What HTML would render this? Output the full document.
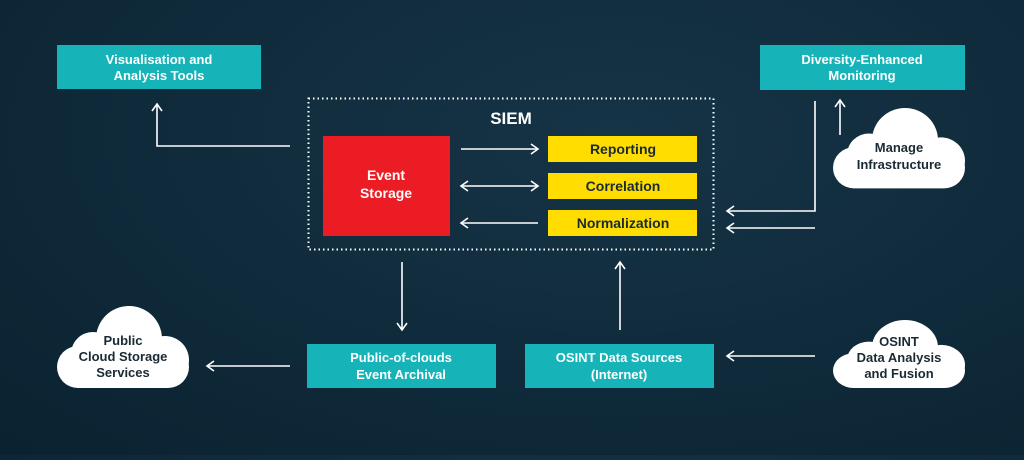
<!DOCTYPE html>
<html><head><meta charset="utf-8"><style>
html,body{margin:0;padding:0}
body{width:1024px;height:455px;overflow:hidden;background:radial-gradient(ellipse at 60% 30%,#163447 0%,#0f2a3a 55%,#0b2230 100%);font-family:"Liberation Sans",sans-serif}
</style></head><body>
<svg width="1024" height="455" viewBox="0 0 1024 455" xmlns="http://www.w3.org/2000/svg" font-family="Liberation Sans, sans-serif" font-weight="bold">
<defs>
<marker id="a" markerWidth="12" markerHeight="12" refX="9" refY="6" orient="auto-start-reverse" markerUnits="userSpaceOnUse">
<path d="M2,1 L9,6 L2,11" fill="none" stroke="#fff" stroke-width="1.6"/></marker>
<g id="cloud">
<rect x="0" y="40" width="132" height="42" rx="21" fill="#fff"/>
<circle cx="72" cy="33" r="33" fill="#fff"/>
<circle cx="36" cy="48" r="22" fill="#fff"/>
<circle cx="108" cy="54" r="24" fill="#fff"/>
</g>
</defs>
<g stroke="#fff" stroke-width="1.6" fill="none">
<rect x="308.5" y="98.5" width="405" height="151" stroke-dasharray="1.5 3" stroke-width="2"/>
</g>
<rect x="57" y="45" width="204" height="44" fill="#16b3b8"/>
<rect x="760" y="45" width="205" height="45" fill="#16b3b8"/>
<rect x="307" y="344" width="189" height="44" fill="#16b3b8"/>
<rect x="525" y="344" width="189" height="44" fill="#16b3b8"/>
<rect x="323" y="136" width="127" height="100" fill="#ec1c24"/>
<rect x="548" y="136" width="149" height="26" fill="#ffdd00"/>
<rect x="548" y="173" width="149" height="26" fill="#ffdd00"/>
<rect x="548" y="210" width="149" height="26" fill="#ffdd00"/>
<use href="#cloud" transform="translate(57,306)"/>
<use href="#cloud" transform="translate(833,108) scale(1,0.98)"/>
<use href="#cloud" transform="translate(833,320) scale(1,0.83)"/>
<g stroke="#fff" stroke-width="1.6" fill="none">
<path d="M290,146 H157 V104" marker-end="url(#a)"/>
<path d="M461,149 H538" marker-end="url(#a)"/>
<path d="M461,186 H538" marker-end="url(#a)" marker-start="url(#a)"/>
<path d="M538,223 H461" marker-end="url(#a)"/>
<path d="M815,101 V211 H727" marker-end="url(#a)"/>
<path d="M815,228 H727" marker-end="url(#a)"/>
<path d="M840,135 V100" marker-end="url(#a)"/>
<path d="M402,262 V330" marker-end="url(#a)"/>
<path d="M620,330 V262" marker-end="url(#a)"/>
<path d="M290,366 H207" marker-end="url(#a)"/>
<path d="M815,356 H727" marker-end="url(#a)"/>
</g>
<g font-size="13" text-anchor="middle" fill="#fff">
<text x="159" y="64">Visualisation and</text><text x="159" y="80">Analysis Tools</text>
<text x="862" y="64">Diversity-Enhanced</text><text x="862" y="80">Monitoring</text>
<text x="401" y="362">Public-of-clouds</text><text x="401" y="379">Event Archival</text>
<text x="619" y="362">OSINT Data Sources</text><text x="619" y="379">(Internet)</text>
<text x="386" y="180" font-size="14">Event</text><text x="386" y="198" font-size="14">Storage</text>
<text x="511" y="124" font-size="17">SIEM</text>
</g>
<g font-size="14" text-anchor="middle" fill="#1a2a33">
<text x="623" y="154">Reporting</text>
<text x="623" y="191">Correlation</text>
<text x="623" y="228">Normalization</text>
</g>
<g font-size="13" text-anchor="middle" fill="#1a2a33">
<text x="123" y="345">Public</text><text x="123" y="361">Cloud Storage</text><text x="123" y="377">Services</text>
<text x="899" y="152">Manage</text><text x="899" y="169">Infrastructure</text>
<text x="899" y="346">OSINT</text><text x="899" y="362">Data Analysis</text><text x="899" y="378">and Fusion</text>
</g>
</svg>
</body></html>
